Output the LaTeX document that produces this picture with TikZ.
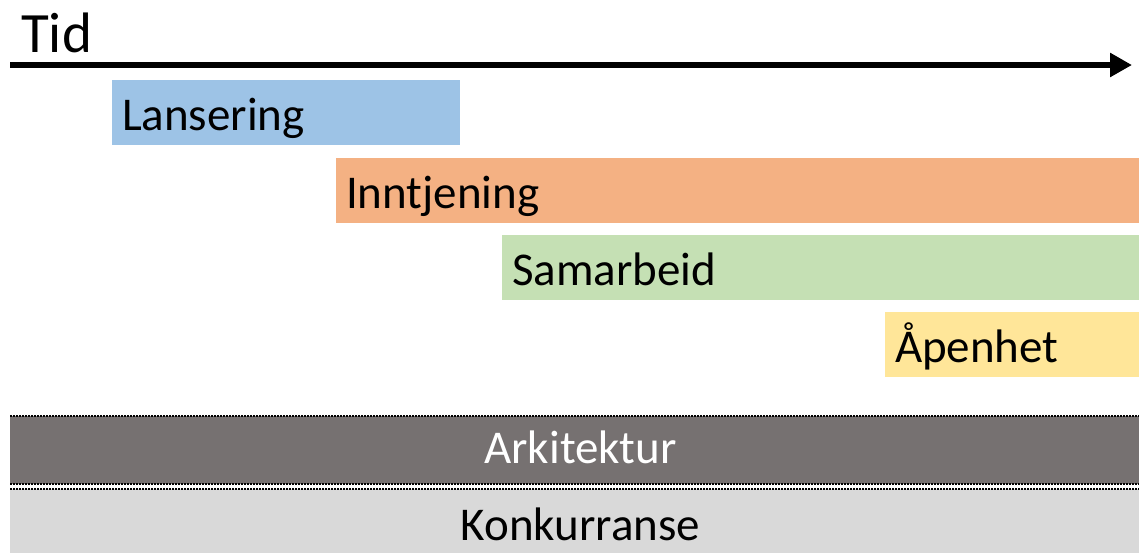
\documentclass[tikz,border=0pt]{standalone}
\usepackage{fontspec}
\setmainfont{Carlito}
\usetikzlibrary{arrows.meta}

\definecolor{lblue}{HTML}{9DC3E6}
\definecolor{lorange}{HTML}{F4B183}
\definecolor{lgreen}{HTML}{C5E0B4}
\definecolor{lyellow}{HTML}{FFE699}
\definecolor{dgrey}{HTML}{767171}
\definecolor{lgrey}{HTML}{D9D9D9}

\tikzset{
    big/.style={font=\fontsize{47}{50}\selectfont},
    phase/.style={big, anchor=north west, minimum height=65pt, inner ysep=0pt,
        inner xsep=10pt, outer sep=0pt, text width=#1-20pt, align=left,
        text height=35pt, text depth=0pt},
    base/.style={big, anchor=north west, minimum width=1141pt, inner sep=0pt,
        outer sep=0pt, text depth=0pt},
    dots/.style={line width=2pt, dash pattern=on 1.5pt off 1.5pt}
}

\begin{document}
\begin{tikzpicture}[x=1pt,y=-1pt]
    \useasboundingbox (0,0) rectangle (1139,552);

    % time axis
    \coordinate (t0) at (10,65);
    \coordinate (t1) at (1132,65);
    \draw[line width=6pt, -{Triangle[length=22pt,width=23pt]}] (t0) -- (t1);
    \node[font=\fontsize{57}{60}\selectfont, anchor=base west, inner sep=0pt] (tid) at (21,52) {Tid};

    % phases
    \node[phase=348pt, fill=lblue] (lansering) at (112,80) {Lansering};
    \node[phase=815pt, fill=lorange] (inntjening) at (336,158) {Inntjening};
    \node[phase=649pt, fill=lgreen] (samarbeid) at (502,235) {Samarbeid};
    \node[phase=266pt, fill=lyellow] (apenhet) at (885,312) {Åpenhet};

    % foundation layers
    \node[base, fill=dgrey, text=white, minimum height=68pt, text height=26pt] (arkitektur) at (10,416) {Arkitektur};
    \node[base, fill=lgrey, minimum height=64pt, text height=39pt] (konkurranse) at (10,489) {Konkurranse};

    \draw[dots] (arkitektur.north west) -- (arkitektur.north east);
    \draw[dots] (arkitektur.south west) -- (arkitektur.south east);
    \draw[dots, line width=1.5pt] (konkurranse.north west) -- (konkurranse.north east);

\end{tikzpicture}
\end{document}
